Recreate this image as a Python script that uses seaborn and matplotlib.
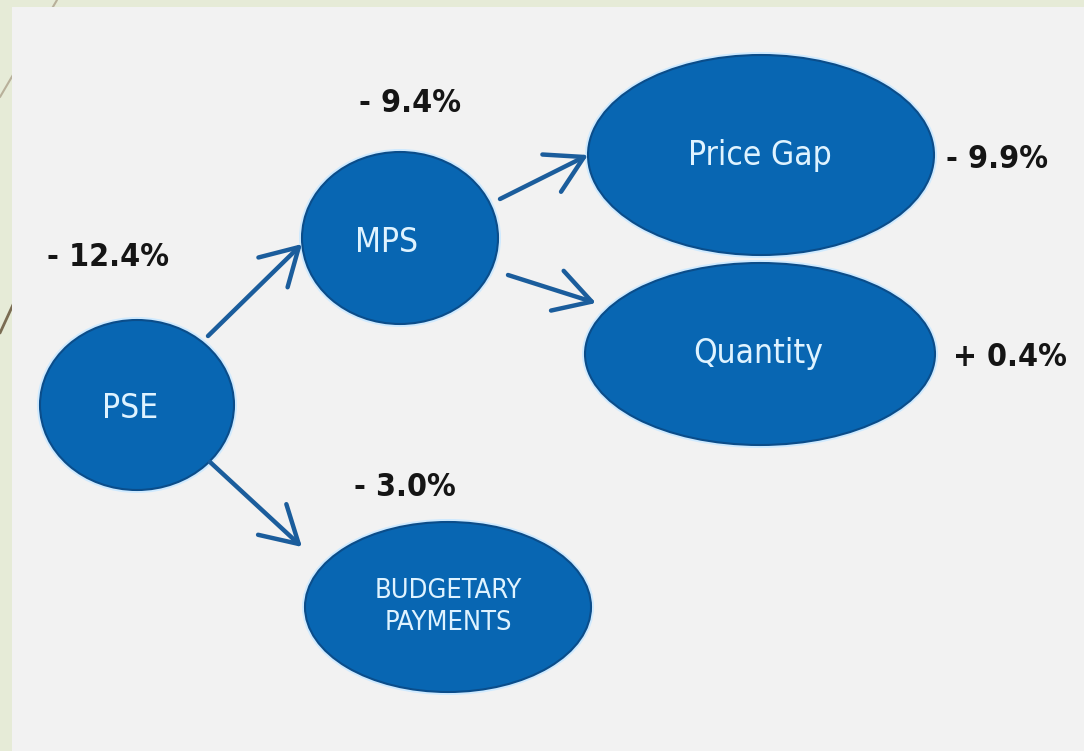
#!/usr/bin/env python3
"""
pse_decomposition.py

Flow diagram: decomposition of the change in PSE into MPS (price gap, quantity)
and budgetary payments.
"""

import matplotlib
matplotlib.use("Agg")
import matplotlib.pyplot as plt
from matplotlib.patches import Ellipse, Rectangle, FancyArrowPatch
import seaborn as sns

# --- data ---------------------------------------------------------------
nodes = ["PSE", "MPS", "Price Gap", "Quantity", "BUDGETARY\nPAYMENTS"]
changes = [-12.4, -9.4, -9.9, 0.4, -3.0]
edges = [(0, 1), (1, 2), (1, 3), (0, 4)]

# --- layout (pixel coordinates, y down) ---------------------------------
centers = [(137, 405), (400, 238), (761, 155), (760, 354), (448, 607)]
radii = [(97, 85), (98, 86), (173, 100), (175, 91), (143, 85)]
label_pos = [(130, 408), (386, 242), (760, 156), (758, 354), (448, 607)]
label_size = [24, 24, 24, 24, 19.5]
change_pos = [(108, 258), (410, 103), (997, 160), (1010, 357), (405, 487)]
arrow_ends = [((208, 336), (302, 244)), ((500, 199), (588, 155)),
              ((508, 275), (596, 303)), ((210, 462), (302, 547))]

BLUE = "#0866b2"
EDGE = "#0b4d8a"
HALO = "#cfeaff"
ARROW = "#1b5d9c"
PANEL = "#f2f2f2"
SLIDE = "#e6ebd7"


def fmt(v):
    sign = "+" if v > 0 else "-"
    return f"{sign} {abs(v):.1f}%"


def main():
    sns.set_theme(style="white")
    plt.rcParams["font.family"] = ["DejaVu Sans"]

    fig = plt.figure(figsize=(10.84, 7.51), dpi=100)
    fig.patch.set_facecolor(SLIDE)
    ax = fig.add_axes([0, 0, 1, 1])
    ax.set_xlim(0, 1084)
    ax.set_ylim(751, 0)
    ax.set_axis_off()

    # slide decoration lines (only visible in the left strip)
    ax.plot([57, 0], [0, 97], color="#b8b09a", lw=1.5, zorder=0)
    ax.plot([40, 0], [246, 333], color="#7a6c52", lw=2, zorder=0)

    # grey panel
    ax.add_patch(Rectangle((12, 7), 1072, 744, facecolor=PANEL,
                           edgecolor="none", zorder=1))

    # ellipses + labels
    for name, (cx, cy), (rx, ry), (lx, ly), fs in zip(
            nodes, centers, radii, label_pos, label_size):
        ax.add_patch(Ellipse((cx, cy), 2 * rx + 6, 2 * ry + 6,
                             facecolor=HALO, edgecolor="none", zorder=2))
        ax.add_patch(Ellipse((cx, cy), 2 * rx, 2 * ry, facecolor=BLUE,
                             edgecolor=EDGE, lw=1.5, zorder=3))
        ax.text(lx, ly, name, ha="center", va="center", color="#dff3ff",
                fontsize=fs, fontstretch="condensed", linespacing=1.3,
                zorder=4)

    # percentage changes
    for v, (px, py) in zip(changes, change_pos):
        ax.text(px, py, fmt(v), ha="center", va="center", color="#151515",
                fontsize=23, fontweight="bold", fontstretch="condensed",
                zorder=4)

    # arrows
    for (tail, head) in arrow_ends:
        ax.add_patch(FancyArrowPatch(
            tail, head, arrowstyle="->,head_length=1.3,head_width=0.75",
            mutation_scale=20, color=ARROW, lw=3.2, zorder=3,
            shrinkA=0, shrinkB=0))

    fig.savefig("out.png", dpi=100, facecolor=fig.get_facecolor())


if __name__ == "__main__":
    main()
